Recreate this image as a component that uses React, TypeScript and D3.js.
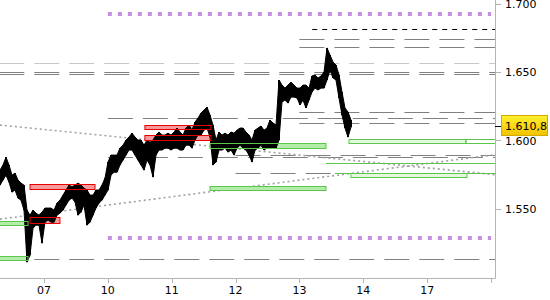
import React from 'react';
import * as d3 from 'd3';

// ---- data ----
const dayTicks = [0, 1, 2, 3, 4, 5, 6, 7];
const dayLabels = ['07', '10', '11', '12', '13', '14', '17', ''];
const priceTicks = [1.55, 1.6, 1.65, 1.7];
const priceTickLabels = ['1.550', '1.600', '1.650', '1.700'];

const firstBarDay = -0.689;
const barStepDays = 0.04698;
const highs = [
  1.5783, 1.582, 1.5878, 1.582, 1.5746, 1.5761, 1.571, 1.5688, 1.5673, 1.549,
  1.5453, 1.549, 1.5468, 1.5453, 1.5475, 1.5505, 1.5505, 1.5505, 1.549, 1.5541,
  1.5563, 1.56, 1.5637, 1.5673, 1.5659, 1.5673, 1.5688, 1.5673, 1.5651, 1.5637,
  1.56, 1.56, 1.5637, 1.5637, 1.5673, 1.5725, 1.5842, 1.5893, 1.5893, 1.5893,
  1.5944, 1.5966, 1.6003, 1.6025, 1.6054, 1.6025, 1.6003, 1.6003, 1.5966, 1.6003,
  1.5988, 1.6003, 1.604, 1.6062, 1.604, 1.604, 1.6054, 1.604, 1.6062, 1.6091,
  1.6062, 1.604, 1.6091, 1.6113, 1.6076, 1.6135, 1.6164, 1.6201, 1.6223, 1.6245,
  1.6186, 1.6113, 1.6003, 1.6062, 1.604, 1.6054, 1.604, 1.6062, 1.6054, 1.6076,
  1.6091, 1.6091, 1.6062, 1.604, 1.6003, 1.6076, 1.6091, 1.6106, 1.6076, 1.6091,
  1.615, 1.6128, 1.6113, 1.6443, 1.6406, 1.6384, 1.6406, 1.6428, 1.6406, 1.6384,
  1.6384, 1.6406, 1.6406, 1.6384, 1.6472, 1.648, 1.6458, 1.6472, 1.6502, 1.6678,
  1.6626, 1.6575, 1.6553, 1.648, 1.6355, 1.6238, 1.6209, 1.615,
];
const lows = [
  1.5673, 1.571, 1.5746, 1.5695, 1.5622, 1.5637, 1.5578, 1.5563, 1.549, 1.5109,
  1.516, 1.5358, 1.538, 1.538, 1.5248, 1.5402, 1.5417, 1.5402, 1.5402, 1.5453,
  1.5468, 1.549, 1.5527, 1.5563, 1.5578, 1.5549, 1.5453, 1.5475, 1.5527, 1.538,
  1.5402, 1.5453, 1.5505, 1.5541, 1.5563, 1.56, 1.5637, 1.5746, 1.5768, 1.5768,
  1.582, 1.5856, 1.5893, 1.593, 1.593, 1.5893, 1.5856, 1.582, 1.5783, 1.5856,
  1.582, 1.5732, 1.5893, 1.593, 1.593, 1.5944, 1.5944, 1.593, 1.5944, 1.5944,
  1.593, 1.593, 1.5966, 1.5966, 1.5944, 1.6003, 1.604, 1.604, 1.6076, 1.6091,
  1.6025, 1.582, 1.5842, 1.593, 1.593, 1.5944, 1.5915, 1.593, 1.5893, 1.5944,
  1.5966, 1.5944, 1.593, 1.5893, 1.5842, 1.593, 1.5944, 1.5966, 1.593, 1.5944,
  1.5944, 1.5944, 1.5944, 1.6003, 1.6282, 1.6296, 1.6274, 1.6318, 1.6318, 1.6311,
  1.626, 1.6296, 1.6238, 1.6296, 1.6355, 1.6384, 1.637, 1.6384, 1.6384, 1.6443,
  1.6516, 1.6458, 1.6443, 1.6311, 1.6186, 1.6091, 1.6025, 1.6098,
];
const lastPrice = 1.6108;
const lastPriceLabel = '1.610,8';

// horizontal dashed levels (dark gray)
const darkLevels = [1.6741, 1.6683, 1.6502, 1.6487, 1.6206, 1.6162, 1.6126, 1.5893, 1.5876, 1.5761, 1.5129];
const darkLevelFrom = [4.0, 4.0, -0.7, -0.7, 4.0, 1.0, 4.0, 3.0, 1.0, 3.0, -0.7];
const darkLevelTo = [7.1, 7.1, 7.1, 7.1, 7.1, 7.1, 7.1, 7.1, 7.1, 4.49, 7.1];
const lightLevels = [1.6565];
const lightLevelFrom = [-0.7];

const blackLevels = [1.6815];
const blackLevelFrom = [4.2];

const purpleLevels = [1.6927, 1.5285];
const purpleFrom = 1.0;
const purpleTo = 7.0;

// trend lines
const trendFromDay = [-0.69, -0.69];
const trendFromPrice = [1.6113, 1.5424];
const trendToDay = [7.06, 7.06];
const trendToPrice = [1.575, 1.5896];

// zones
const greenTop = [1.5409, 1.5153, 1.5979, 1.6008, 1.5666, 1.5761];
const greenBottom = [1.538, 1.5127, 1.5942, 1.5983, 1.5637, 1.5732];
const greenFrom = [-0.7, -0.7, 2.6, 4.776, 2.6, 4.807];
const greenTo = [-0.25, -0.25, 4.416, 6.608, 4.416, 6.624];
const greenPale = [false, false, false, true, false, true];
const greenLineLevels = [1.5834, 1.5761];
const greenLineFrom = [4.416, 4.557];

const redTop = [1.5681, 1.5439, 1.6113, 1.604];
const redBottom = [1.5646, 1.5393, 1.6082, 1.6003];
const redFrom = [-0.219, -0.219, 1.58, 1.58];
const redTo = [0.799, 0.25, 2.615, 2.615];

const W = 550;
const H = 300;
const plotRight = 495;
const plotBottom = 278;

export default function App() {
  const x = d3.scaleLinear().domain([0, 7]).range([44, 491]);
  const y = d3.scaleLinear().domain([1.5, 1.7]).range([277, 4]);
  const sy = (v: number) => Math.round(y(v)) + 0.5;
  const font = 'DejaVu Sans, Verdana, sans-serif';

  const bars = highs.map((h, i) => ({ t: firstBarDay + i * barStepDays, h, l: lows[i] }));
  const area = d3
    .area<{ t: number; h: number; l: number }>()
    .x((d) => x(d.t))
    .y0((d) => y(d.l))
    .y1((d) => y(d.h))
    .curve(d3.curveLinear);

  return (
    <svg width={W} height={H} style={{ position: 'absolute', left: 0, top: 0, background: '#fff' }}>
      <defs>
        <clipPath id="plot">
          <rect x={0} y={0} width={plotRight} height={plotBottom} />
        </clipPath>
        <linearGradient id="gold" x1="0" y1="0" x2="0" y2="1">
          <stop offset="0" stopColor="#fff030" />
          <stop offset="1" stopColor="#f2c200" />
        </linearGradient>
      </defs>
      <rect x={0} y={0} width={W} height={H} fill="#fff" />
      <g clipPath="url(#plot)">
        {lightLevels.map((v, i) => (
          <line key={'ll' + i} x1={x(lightLevelFrom[i])} x2={plotRight} y1={sy(v)} y2={sy(v)} stroke="#c8c8c8" strokeDasharray="25 10" />
        ))}
        {darkLevels.map((v, i) => (
          <line key={'dl' + i} x1={x(darkLevelFrom[i])} x2={x(darkLevelTo[i])} y1={sy(v)} y2={sy(v)} stroke="#808080" strokeDasharray="25 10" />
        ))}
        {blackLevels.map((v, i) => (
          <line key={'bl' + i} x1={x(blackLevelFrom[i])} x2={plotRight} y1={sy(v)} y2={sy(v)} stroke="#000" strokeDasharray="5 5" />
        ))}
        {purpleLevels.map((v, i) => (
          <line key={'pl' + i} x1={x(purpleFrom)} x2={x(purpleTo)} y1={Math.round(y(v))} y2={Math.round(y(v))} stroke="#c78fdf" strokeWidth={4} strokeDasharray="4 6" />
        ))}
        {trendFromDay.map((d, i) => (
          <line key={'tl' + i} x1={x(d)} y1={y(trendFromPrice[i])} x2={x(trendToDay[i])} y2={y(trendToPrice[i])} stroke="#a0a0a0" strokeWidth={1.6} strokeDasharray="2 3" />
        ))}
        {greenTop.map((v, i) => (
          <rect key={'gf' + i} x={x(greenFrom[i])} y={sy(v)} width={x(greenTo[i]) - x(greenFrom[i])} height={sy(greenBottom[i]) - sy(v)} fill={greenPale[i] ? '#e4f8e0' : '#b4ecaa'} />
        ))}
        {redTop.map((v, i) => (
          <rect key={'rf' + i} x={x(redFrom[i])} y={sy(v)} width={x(redTo[i]) - x(redFrom[i])} height={sy(redBottom[i]) - sy(v)} fill="#f59a9a" />
        ))}
        <path d={area(bars) || ''} fill="#000" stroke="#000" strokeWidth={1} />
        {bars.map((b, i) => (
          <rect key={'b' + i} x={x(b.t) - 1} y={y(b.h)} width={2} height={Math.max(1, y(b.l) - y(b.h))} fill="#000" />
        ))}
        {greenTop.map((v, i) => (
          <rect key={'gs' + i} x={x(greenFrom[i])} y={sy(v)} width={x(greenTo[i]) - x(greenFrom[i])} height={sy(greenBottom[i]) - sy(v)} fill="none" stroke="#5cc64c" />
        ))}
        <rect x={x(greenTo[3])} y={sy(greenTop[3])} width={plotRight + 2 - x(greenTo[3])} height={sy(greenBottom[3]) - sy(greenTop[3])} fill="none" stroke="#5cc64c" />
        {greenLineLevels.map((v, i) => (
          <line key={'gl' + i} x1={x(greenLineFrom[i])} x2={plotRight} y1={sy(v)} y2={sy(v)} stroke="#5cc64c" />
        ))}
        {redTop.map((v, i) => (
          <rect key={'rs' + i} x={x(redFrom[i])} y={sy(v)} width={x(redTo[i]) - x(redFrom[i])} height={sy(redBottom[i]) - sy(v)} fill="none" stroke="#e80000" />
        ))}
      </g>
      {/* axes */}
      <line x1={0} x2={plotRight + 0.5} y1={plotBottom + 0.5} y2={plotBottom + 0.5} stroke="#b4b4b4" />
      <line x1={plotRight + 0.5} x2={plotRight + 0.5} y1={0} y2={plotBottom + 0.5} stroke="#b4b4b4" />
      {dayTicks.map((d, i) => (
        <g key={'xt' + i}>
          <line x1={Math.round(x(d)) + 0.5} x2={Math.round(x(d)) + 0.5} y1={plotBottom} y2={plotBottom + 5} stroke="#b4b4b4" />
          <text x={x(d)} y={294} textAnchor="middle" fontFamily={font} fontSize={11} fill="#000">{dayLabels[i]}</text>
        </g>
      ))}
      {priceTicks.map((v, i) => (
        <g key={'yt' + i}>
          <line x1={plotRight} x2={plotRight + 6} y1={sy(v)} y2={sy(v)} stroke="#b4b4b4" />
          <text x={505} y={y(v) + 4} fontFamily={font} fontSize={11} fill="#000">{priceTickLabels[i]}</text>
        </g>
      ))}
      <line x1={plotRight} x2={plotRight + 6} y1={sy(lastPrice)} y2={sy(lastPrice)} stroke="#000" />
      <rect x={501.5} y={Math.round(y(lastPrice)) - 10.5} width={46} height={20} fill="url(#gold)" stroke="#d2aa00" />
      <text x={505} y={y(lastPrice) + 4} fontFamily={font} fontSize={11} fill="#000">{lastPriceLabel}</text>
    </svg>
  );
}
